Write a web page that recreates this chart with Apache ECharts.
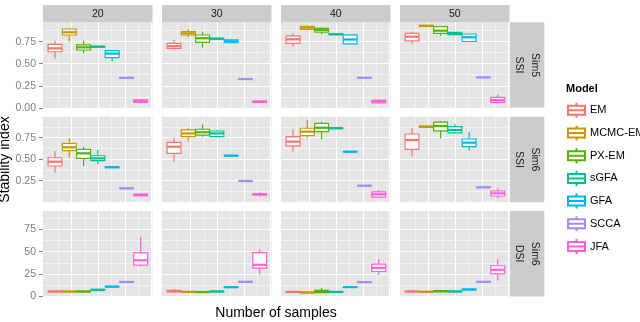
<!DOCTYPE html>
<html>
<head>
<meta charset="utf-8">
<script src="https://cdn.jsdelivr.net/npm/echarts@6/dist/echarts.min.js"></script>
<style>
  * { margin: 0; padding: 0; }
  #chart { width: 640px; height: 322px; }
</style>
</head>
<body>
<div id="chart"></div>
<script>
  // facets
  const sampleSizes = ['20', '30', '40', '50'];
  const rowLabels = [['Sim5', 'SSI'], ['Sim6', 'SSI'], ['Sim6', 'DSI']];
  const models = ['EM', 'MCMC-EM', 'PX-EM', 'sGFA', 'GFA', 'SCCA', 'JFA'];
  const colors = ['#F8766D', '#C49A00', '#53B400', '#00C094', '#00B6EB', '#A58AFF', '#FB61D7'];

  // y tick labels per row
  const row1Ticks = [0, 0.25, 0.5, 0.75];
  const row2Ticks = [0.25, 0.5, 0.75];
  const row3Ticks = [0, 25, 50, 75];

  // box stats per model: [min, q1, median, q3, max]
  const sim5SSI_20 = [
    [0.56, 0.636, 0.675, 0.72, 0.76],
    [0.75, 0.826, 0.857, 0.894, 0.906],
    [0.62, 0.656, 0.686, 0.713, 0.76],
    [0.683, 0.689, 0.693, 0.697, 0.70],
    [0.525, 0.57, 0.615, 0.648, 0.65],
    [0.335, 0.338, 0.34, 0.343, 0.345],
    [0.05, 0.062, 0.075, 0.09, 0.10]
  ];
  const sim5SSI_30 = [
    [0.655, 0.675, 0.70, 0.73, 0.77],
    [0.80, 0.826, 0.845, 0.864, 0.89],
    [0.686, 0.743, 0.789, 0.826, 0.864],
    [0.775, 0.78, 0.784, 0.788, 0.79],
    [0.73, 0.738, 0.755, 0.772, 0.78],
    [0.322, 0.324, 0.326, 0.328, 0.33],
    [0.055, 0.06, 0.068, 0.075, 0.08]
  ];
  const sim5SSI_40 = [
    [0.693, 0.73, 0.777, 0.815, 0.845],
    [0.88, 0.89, 0.91, 0.925, 0.935],
    [0.834, 0.857, 0.88, 0.90, 0.91],
    [0.825, 0.83, 0.834, 0.838, 0.84],
    [0.72, 0.726, 0.775, 0.828, 0.83],
    [0.337, 0.339, 0.341, 0.343, 0.345],
    [0.045, 0.055, 0.073, 0.085, 0.095]
  ];
  const sim5SSI_50 = [
    [0.724, 0.76, 0.807, 0.845, 0.864],
    [0.92, 0.925, 0.93, 0.935, 0.94],
    [0.815, 0.845, 0.875, 0.92, 0.925],
    [0.82, 0.83, 0.845, 0.855, 0.86],
    [0.75, 0.752, 0.80, 0.837, 0.84],
    [0.341, 0.343, 0.345, 0.347, 0.349],
    [0.05, 0.061, 0.088, 0.118, 0.152]
  ];
  const sim6SSI_20 = [
    [0.343, 0.421, 0.471, 0.517, 0.595],
    [0.517, 0.60, 0.638, 0.685, 0.743],
    [0.421, 0.51, 0.568, 0.615, 0.645],
    [0.44, 0.483, 0.51, 0.54, 0.607],
    [0.40, 0.403, 0.406, 0.409, 0.412],
    [0.157, 0.159, 0.161, 0.163, 0.165],
    [0.07, 0.075, 0.084, 0.095, 0.10]
  ];
  const sim6SSI_30 = [
    [0.471, 0.568, 0.645, 0.696, 0.75],
    [0.71, 0.762, 0.80, 0.84, 0.86],
    [0.762, 0.78, 0.813, 0.848, 0.905],
    [0.755, 0.762, 0.80, 0.828, 0.84],
    [0.536, 0.539, 0.541, 0.543, 0.546],
    [0.242, 0.244, 0.246, 0.248, 0.25],
    [0.07, 0.085, 0.092, 0.10, 0.115]
  ];
  const sim6SSI_40 = [
    [0.587, 0.654, 0.704, 0.762, 0.85],
    [0.743, 0.773, 0.82, 0.86, 0.956],
    [0.731, 0.82, 0.866, 0.917, 0.936],
    [0.852, 0.856, 0.86, 0.864, 0.868],
    [0.582, 0.585, 0.587, 0.589, 0.592],
    [0.188, 0.19, 0.192, 0.194, 0.196],
    [0.05, 0.06, 0.092, 0.12, 0.14]
  ];
  const sim6SSI_50 = [
    [0.53, 0.615, 0.723, 0.793, 0.86],
    [0.865, 0.87, 0.878, 0.885, 0.89],
    [0.743, 0.83, 0.886, 0.93, 0.94],
    [0.80, 0.805, 0.84, 0.878, 0.909],
    [0.60, 0.645, 0.692, 0.735, 0.82],
    [0.169, 0.171, 0.173, 0.175, 0.177],
    [0.045, 0.072, 0.103, 0.13, 0.16]
  ];
  const sim6DSI_20 = [
    [5.1, 5.4, 5.6, 5.9, 6.1],
    [5.0, 5.3, 5.5, 5.8, 6.0],
    [5.0, 5.3, 5.6, 5.8, 6.1],
    [6.9, 7.2, 7.5, 7.8, 8.1],
    [10.4, 10.8, 11.0, 11.3, 11.6],
    [15.8, 16.0, 16.2, 16.5, 16.8],
    [33.1, 35.0, 40.4, 48.6, 66.6]
  ];
  const sim6DSI_30 = [
    [4.5, 5.2, 6.0, 7.0, 8.5],
    [4.6, 4.9, 5.2, 5.5, 5.8],
    [4.4, 4.7, 5.0, 5.3, 5.6],
    [5.0, 5.3, 5.6, 5.9, 6.2],
    [9.8, 10.1, 10.4, 10.7, 11.0],
    [15.8, 16.1, 16.4, 16.7, 17.0],
    [24.2, 31.7, 35.4, 49.0, 53.0]
  ];
  const sim6DSI_40 = [
    [4.6, 4.9, 5.2, 5.5, 5.8],
    [3.9, 4.2, 4.5, 4.8, 5.1],
    [4.0, 4.3, 5.6, 6.8, 9.5],
    [4.6, 4.9, 5.2, 5.5, 5.8],
    [9.9, 10.2, 10.5, 10.8, 11.1],
    [15.4, 15.7, 16.0, 16.3, 16.6],
    [23.9, 27.9, 32.0, 36.2, 41.7]
  ];
  const sim6DSI_50 = [
    [5.0, 5.3, 5.6, 5.9, 6.2],
    [4.7, 5.0, 5.3, 5.6, 5.9],
    [4.8, 5.3, 6.0, 6.6, 7.2],
    [5.0, 5.3, 5.6, 5.9, 6.2],
    [7.2, 7.5, 7.8, 8.1, 8.4],
    [15.8, 16.1, 16.4, 16.7, 17.0],
    [17.9, 25.3, 29.8, 34.3, 41.7]
  ];

  const panelData = [
    [sim5SSI_20, sim5SSI_30, sim5SSI_40, sim5SSI_50],
    [sim6SSI_20, sim6SSI_30, sim6SSI_40, sim6SSI_50],
    [sim6DSI_20, sim6DSI_30, sim6DSI_40, sim6DSI_50]
  ];

  // layout
  const panelLeft = 43, panelW = 109.5, colStep = 119;
  const rowTop = [22.3, 116.7, 211];
  const panelH = 85.5;
  const rowMax = [0.97, 0.994, 95.4];
  const rowStep = [0.25, 0.25, 25];
  const rowTicks = [row1Ticks, row2Ticks, row3Ticks];
  const gridShift = 2;            // vertical grid lines start a bit inside the panel
  const xMax = (panelW - gridShift) / 26.67;
  const boxStart = 0.375, boxStep = 0.5357, boxW = 0.52;

  const grids = [], xAxes = [], yAxes = [], series = [], graphics = [];

  for (let r = 0; r < 3; r++) {
    for (let c = 0; c < 4; c++) {
      const left = panelLeft + c * colStep;
      const gi = grids.length;
      // panel background + horizontal grid
      grids.push({ left: left, top: rowTop[r], width: panelW, height: panelH,
        show: true, backgroundColor: '#E5E5E5', borderWidth: 0 });
      xAxes.push({ gridIndex: gi, type: 'value', min: 0, max: 1, show: false });
      yAxes.push({
        gridIndex: gi, type: 'value', min: 0, max: rowMax[r], interval: rowStep[r],
        axisLine: { show: false },
        axisTick: { show: c === 0, length: 4, lineStyle: { color: '#7F7F7F' }, customValues: rowTicks[r] },
        axisLabel: {
          show: c === 0, customValues: rowTicks[r], margin: 7, color: '#7F7F7F', fontSize: 10.5,
          fontFamily: 'Liberation Sans, Arial, sans-serif',
          formatter: v => r < 2 ? v.toFixed(2) : String(v)
        },
        splitLine: { show: true, lineStyle: { color: '#FFFFFF', width: 1 } },
        minorTick: { show: false, splitNumber: 2 },
        minorSplitLine: { show: true, lineStyle: { color: '#F2F2F2', width: 1 } }
      });
      // vertical grid + boxes
      const li = grids.length;
      grids.push({ left: left + gridShift, top: rowTop[r], width: panelW - gridShift, height: panelH, show: false });
      xAxes.push({
        gridIndex: li, type: 'value', min: 0, max: xMax, interval: 1,
        axisLine: { show: false }, axisTick: { show: false }, axisLabel: { show: false },
        splitLine: { show: true, showMinLine: false, showMaxLine: false, lineStyle: { color: '#FFFFFF', width: 1 } },
        minorTick: { show: false, splitNumber: 2 },
        minorSplitLine: { show: true, lineStyle: { color: '#F2F2F2', width: 1 } }
      });
      yAxes.push({ gridIndex: li, type: 'value', min: 0, max: rowMax[r],
        axisLine: { show: false }, axisTick: { show: false }, axisLabel: { show: false }, splitLine: { show: false } });

      const stats = panelData[r][c];
      models.forEach((m, i) => {
        const col = colors[i];
        series.push({
          type: 'custom', name: m, xAxisIndex: li, yAxisIndex: li, z: 3,
          itemStyle: { color: '#FFFFFF', borderColor: col, borderWidth: 1.2 },
          data: [[boxStart + i * boxStep].concat(stats[i])],
          renderItem: (params, api) => {
            const x = api.value(0);
            const lo = api.coord([x, api.value(1)]);
            const q1 = api.coord([x, api.value(2)]);
            const md = api.coord([x, api.value(3)]);
            const q3 = api.coord([x, api.value(4)]);
            const hi = api.coord([x, api.value(5)]);
            const w = api.size([boxW, 0])[0];
            return {
              type: 'group',
              children: [
                { type: 'line', shape: { x1: lo[0], y1: lo[1], x2: q1[0], y2: q1[1] }, style: { stroke: col, lineWidth: 1.2 } },
                { type: 'line', shape: { x1: q3[0], y1: q3[1], x2: hi[0], y2: hi[1] }, style: { stroke: col, lineWidth: 1.2 } },
                { type: 'rect', shape: { x: q3[0] - w / 2, y: q3[1], width: w, height: q1[1] - q3[1] }, style: { fill: '#FFFFFF', stroke: col, lineWidth: 1.2 } },
                { type: 'line', shape: { x1: md[0] - w / 2, y1: md[1], x2: md[0] + w / 2, y2: md[1] }, style: { stroke: col, lineWidth: 2.2 } }
              ]
            };
          }
        });
      });
    }
  }

  // strips
  sampleSizes.forEach((s, c) => {
    const left = panelLeft + c * colStep;
    graphics.push({ type: 'rect', shape: { x: left, y: 5, width: panelW, height: 17.3 }, style: { fill: '#CCCCCC' } });
    graphics.push({ type: 'text', x: left + panelW / 2, y: 13.8,
      style: { text: s, fill: '#1A1A1A', fontSize: 10.5, fontFamily: 'Liberation Sans, Arial, sans-serif',
        align: 'center', verticalAlign: 'middle', textAlign: 'center', textVerticalAlign: 'middle' } });
  });
  rowLabels.forEach((lab, r) => {
    const cy = rowTop[r] + panelH / 2;
    graphics.push({ type: 'rect', shape: { x: 510, y: rowTop[r], width: 34.3, height: panelH }, style: { fill: '#CCCCCC' } });
    [[lab[0], 534.5], [lab[1], 519]].forEach(([t, x]) => {
      graphics.push({ type: 'text', x: x, y: cy, rotation: -Math.PI / 2,
        style: { text: t, fill: '#1A1A1A', fontSize: 10.5, fontFamily: 'Liberation Sans, Arial, sans-serif',
          align: 'center', verticalAlign: 'middle', textAlign: 'center', textVerticalAlign: 'middle' } });
    });
  });
  // axis titles
  graphics.push({ type: 'text', x: 5, y: 159.5, rotation: Math.PI / 2,
    style: { text: 'Stability index', fill: '#000', fontSize: 14, fontFamily: 'Liberation Sans, Arial, sans-serif',
      align: 'center', verticalAlign: 'middle', textAlign: 'center', textVerticalAlign: 'middle' } });
  graphics.push({ type: 'text', x: 276, y: 313,
    style: { text: 'Number of samples', fill: '#000', fontSize: 14, fontFamily: 'Liberation Sans, Arial, sans-serif',
      align: 'center', verticalAlign: 'middle', textAlign: 'center', textVerticalAlign: 'middle' } });

  const chart = echarts.init(document.getElementById('chart'), null, { renderer: 'canvas' });
  chart.setOption({
    animation: false,
    backgroundColor: '#FFFFFF',
    title: {
      text: 'Model', left: 561, top: 78,
      textStyle: { fontSize: 11, fontWeight: 'bold', color: '#000', fontFamily: 'Liberation Sans, Arial, sans-serif' }
    },
    legend: {
      orient: 'vertical', left: 562, top: 96.8,
      itemWidth: 17, itemHeight: 15, itemGap: 5.7,
      icon: 'path://M8.5,0L8.5,3M8.5,12L8.5,15M0,3L17,3L17,12L0,12ZM0,7.5L17,7.5',
      textStyle: { fontSize: 11, color: '#000', fontFamily: 'Liberation Sans, Arial, sans-serif' },
      data: models
    },
    grid: grids,
    xAxis: xAxes,
    yAxis: yAxes,
    series: series,
    graphic: graphics
  });
</script>
</body>
</html>
